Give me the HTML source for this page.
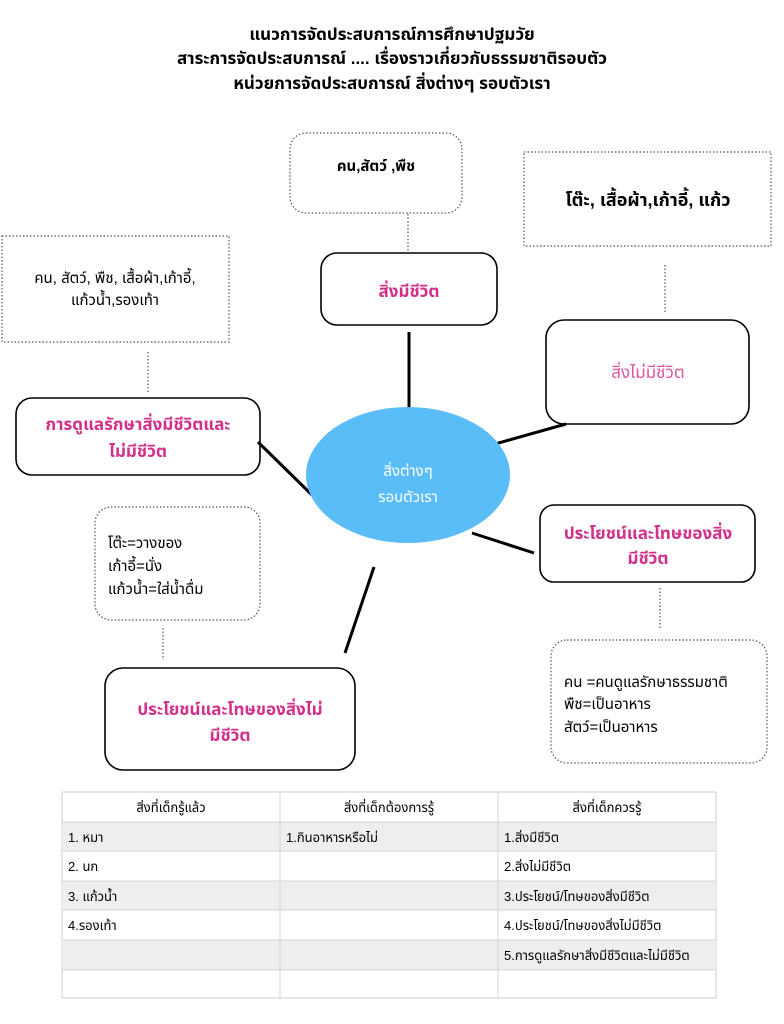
<!DOCTYPE html>
<html><head><meta charset="utf-8"><style>
body{margin:0;background:#fff;}
svg{display:block;font-family:"Liberation Sans","Noto Sans Thai","Loma","Garuda","Tlwg Typo",sans-serif;}
.t{font-weight:bold;font-size:17px;text-anchor:middle;fill:#000}
.p{font-weight:bold;font-size:17px;text-anchor:middle;fill:#d2308a}
.d{fill:none;stroke:#555;stroke-width:1.2;stroke-dasharray:1.5 2}
.b{fill:#fff;stroke:#000;stroke-width:1.6}
.l{stroke:#000;stroke-width:3}
.c{font-size:13px;fill:#000}
</style></head><body>
<svg width="784" height="1024" viewBox="0 0 784 1024">
<text class="t" x="392" y="40">แนวการจัดประสบการณ์การศึกษาปฐมวัย</text>
<text class="t" x="392" y="64">สาระการจัดประสบการณ์ .... เรื่องราวเกี่ยวกับธรรมชาติรอบตัว</text>
<text class="t" x="392" y="89">หน่วยการจัดประสบการณ์ สิ่งต่างๆ รอบตัวเรา</text>

<rect class="d" x="290" y="133" width="172" height="80" rx="16"/>
<text class="t" x="376" y="171" style="font-size:15px">คน,สัตว์ ,พืช</text>
<line class="d" x1="408" y1="214" x2="408" y2="252"/>
<rect class="b" x="321" y="253" width="176" height="72" rx="16"/>
<text class="p" x="409" y="297">สิ่งมีชีวิต</text>
<line class="l" x1="409" y1="332" x2="409" y2="412"/>

<rect class="d" x="524" y="152" width="247" height="94"/>
<text class="t" x="648" y="206" style="font-size:18px">โต๊ะ, เสื้อผ้า,เก้าอี้, แก้ว</text>
<line class="d" x1="665" y1="265" x2="665" y2="312"/>
<rect class="b" x="546" y="320" width="203" height="104" rx="18"/>
<text x="648" y="378" style="font-size:17px;text-anchor:middle;fill:#e0559a">สิ่งไม่มีชีวิต</text>
<line class="l" x1="566" y1="424" x2="470" y2="451"/>

<rect class="d" x="2" y="236" width="227" height="106"/>
<text x="115" y="283" style="font-size:15px;text-anchor:middle">คน, สัตว์, พืช, เสื้อผ้า,เก้าอี้,</text>
<text x="115" y="305" style="font-size:15px;text-anchor:middle">แก้วน้ำ,รองเท้า</text>
<line class="d" x1="148" y1="352" x2="148" y2="392"/>
<rect class="b" x="16" y="398" width="244" height="77" rx="16"/>
<text class="p" x="138" y="430">การดูแลรักษาสิ่งมีชีวิตและ</text>
<text class="p" x="138" y="457">ไม่มีชีวิต</text>
<line class="l" x1="258" y1="442" x2="312" y2="495"/>

<ellipse cx="408" cy="475" rx="102" ry="68" fill="#5bbdf8"/>
<text x="408" y="476" style="font-size:15px;text-anchor:middle;fill:#fff">สิ่งต่างๆ</text>
<text x="408" y="502" style="font-size:15px;text-anchor:middle;fill:#fff">รอบตัวเรา</text>

<line class="l" x1="472" y1="533" x2="534" y2="553"/>
<rect class="b" x="540" y="505" width="215" height="77" rx="14"/>
<text class="p" x="648" y="539">ประโยชน์และโทษของสิ่ง</text>
<text class="p" x="648" y="564">มีชีวิต</text>
<line class="d" x1="660" y1="588" x2="660" y2="630"/>
<rect class="d" x="551" y="640" width="216" height="123" rx="16"/>
<text x="564" y="687" style="font-size:15px">คน =คนดูแลรักษาธรรมชาติ</text>
<text x="564" y="709" style="font-size:15px">พืช=เป็นอาหาร</text>
<text x="564" y="732" style="font-size:15px">สัตว์=เป็นอาหาร</text>

<rect class="d" x="95" y="507" width="165" height="113" rx="16"/>
<text x="108" y="548" style="font-size:15px">โต๊ะ=วางของ</text>
<text x="108" y="571" style="font-size:15px">เก้าอี้=นั่ง</text>
<text x="108" y="594" style="font-size:15px">แก้วน้ำ=ใส่น้ำดื่ม</text>
<line class="d" x1="163" y1="628" x2="163" y2="660"/>
<line class="l" x1="374" y1="567" x2="345" y2="653"/>
<rect class="b" x="105" y="668" width="250" height="102" rx="18"/>
<text class="p" x="230" y="715">ประโยชน์และโทษของสิ่งไม่</text>
<text class="p" x="230" y="741">มีชีวิต</text>

<g>
<rect x="62" y="792" width="654" height="206" fill="#fff" stroke="#ccc"/>
<rect x="62" y="822" width="654" height="29" fill="#eeeeee"/>
<rect x="62" y="881" width="654" height="29" fill="#eeeeee"/>
<rect x="62" y="940" width="654" height="30" fill="#eeeeee"/>
<g stroke="#d4d4d4" stroke-width="1">
<line x1="62" y1="822" x2="716" y2="822"/><line x1="62" y1="851" x2="716" y2="851"/>
<line x1="62" y1="881" x2="716" y2="881"/><line x1="62" y1="910" x2="716" y2="910"/>
<line x1="62" y1="940" x2="716" y2="940"/><line x1="62" y1="970" x2="716" y2="970"/>
<line x1="280" y1="792" x2="280" y2="998"/><line x1="498" y1="792" x2="498" y2="998"/>
</g>
<text class="c" x="171" y="812" text-anchor="middle">สิ่งที่เด็กรู้แล้ว</text>
<text class="c" x="389" y="812" text-anchor="middle">สิ่งที่เด็กต้องการรู้</text>
<text class="c" x="607" y="812" text-anchor="middle">สิ่งที่เด็กควรรู้</text>
<text class="c" x="68" y="842">1. หมา</text>
<text class="c" x="286" y="842">1.กินอาหารหรือไม่</text>
<text class="c" x="504" y="842">1.สิ่งมีชีวิต</text>
<text class="c" x="68" y="871">2. นก</text>
<text class="c" x="504" y="871">2.สิ่งไม่มีชีวิต</text>
<text class="c" x="68" y="901">3. แก้วน้ำ</text>
<text class="c" x="504" y="901">3.ประโยชน์/โทษของสิ่งมีชีวิต</text>
<text class="c" x="68" y="930">4.รองเท้า</text>
<text class="c" x="504" y="930">4.ประโยชน์/โทษของสิ่งไม่มีชีวิต</text>
<text class="c" x="504" y="960">5.การดูแลรักษาสิ่งมีชีวิตและไม่มีชีวิต</text>
</g>
</svg>
</body></html>
